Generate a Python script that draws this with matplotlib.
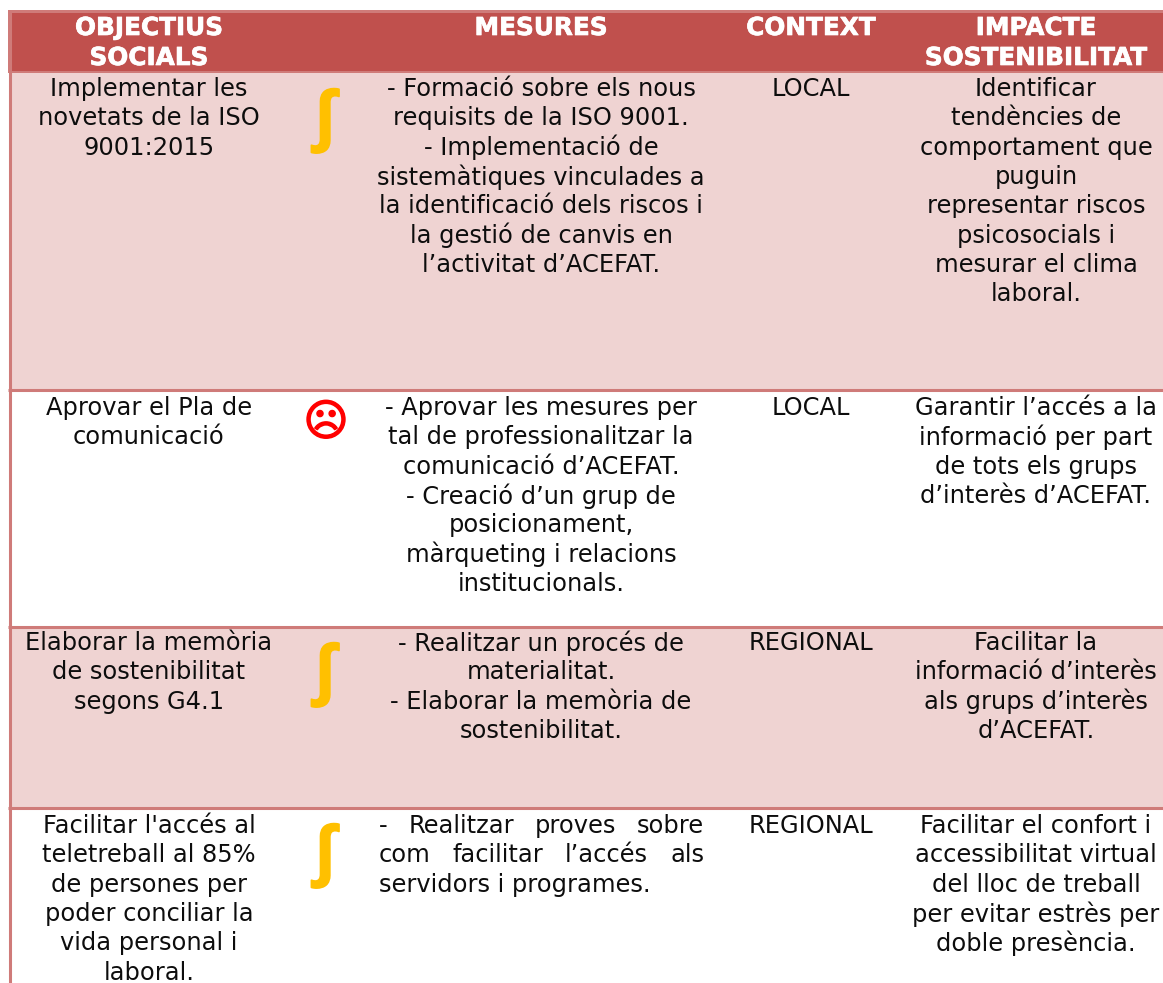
#!/usr/bin/env python
# -*- coding: utf-8 -*-
import matplotlib
matplotlib.use("Agg")
import matplotlib.pyplot as plt
import matplotlib.patheffects as pe

WIDTH, HEIGHT = 1163, 983

HEADERS = [
    ["OBJECTIUS", "SOCIALS"],
    ["MESURES"],
    ["CONTEXT"],
    ["IMPACTE", "SOSTENIBILITAT"],
]
OBJECTIUS = [
    ["Implementar les", "novetats de la ISO", "9001:2015"],
    ["Aprovar el Pla de", "comunicació"],
    ["Elaborar la memòria", "de sostenibilitat", "segons G4.1"],
    ["Facilitar l'accés al", "teletreball al 85%", "de persones per",
     "poder conciliar la", "vida personal i", "laboral."],
]
ESTAT = ["∫", "☹", "∫", "∫"]
MESURES = [
    ["- Formació sobre els nous", "requisits de la ISO 9001.",
     "- Implementació de", "sistemàtiques vinculades a",
     "la identificació dels riscos i", "la gestió de canvis en",
     "l’activitat d’ACEFAT."],
    ["- Aprovar les mesures per", "tal de professionalitzar la",
     "comunicació d’ACEFAT.", "- Creació d’un grup de", "posicionament,",
     "màrqueting i relacions", "institucionals."],
    ["- Realitzar un procés de", "materialitat.",
     "- Elaborar la memòria de", "sostenibilitat."],
    ["- Realitzar proves sobre", "com facilitar l’accés als",
     "servidors i programes."],
]
CONTEXT = ["LOCAL", "LOCAL", "REGIONAL", "REGIONAL"]
IMPACTE = [
    ["Identificar", "tendències de", "comportament que", "puguin",
     "representar riscos", "psicosocials i", "mesurar el clima", "laboral."],
    ["Garantir l’accés a la", "informació per part", "de tots els grups",
     "d’interès d’ACEFAT."],
    ["Facilitar la", "informació d’interès", "als grups d’interès",
     "d’ACEFAT."],
    ["Facilitar el confort i", "accessibilitat virtual", "del lloc de treball",
     "per evitar estrès per", "doble presència."],
]

# layout in pixels
ROW_TOPS = [73, 390, 627, 808]
ROW_BOTTOMS = [390, 627, 808, 983]
ROW_FILLS = ["#EFD3D2", "white", "#EFD3D2", "white"]
FIRST_LINE = [89, 408, 643, 826]
COL_X = [149, 541, 811, 1036]
STATE_X = 326
LINE_STEP = 29.3
JUSTIFY_ROW = 3
JUSTIFY_LEFT, JUSTIFY_RIGHT = 379, 704

BORDER = "#CF7B79"
HEAD = "#C0504D"
FONT = 17.4
HEAD_FONT = 17.8
INK = "#0D0D0D"

fig = plt.figure(figsize=(WIDTH / 100, HEIGHT / 100), dpi=100)
ax = fig.add_axes([0, 0, 1, 1])
ax.set_xlim(0, WIDTH)
ax.set_ylim(HEIGHT, 0)
ax.axis("off")


def cell_lines(x, y, lines):
    for i, line in enumerate(lines):
        ax.text(x, y + i * LINE_STEP, line, ha="center", va="center",
                fontsize=FONT, color=INK)


def justified(y, line, last):
    # word by word, the way the source document spreads this one cell
    if last:
        ax.text(JUSTIFY_LEFT, y, line, ha="left", va="center", fontsize=FONT, color=INK)
        return
    renderer = fig.canvas.get_renderer()
    words = line.split(" ")
    items = [ax.text(0, y, w, ha="left", va="center", fontsize=FONT, color=INK) for w in words]
    widths = [t.get_window_extent(renderer).width for t in items]
    gap = (JUSTIFY_RIGHT - JUSTIFY_LEFT - sum(widths)) / (len(words) - 1)
    x = JUSTIFY_LEFT
    for t, w in zip(items, widths):
        t.set_x(x)
        x += w + gap


# header band and row backgrounds
ax.fill_between([8, WIDTH], 10, 73, color=BORDER, lw=0)
ax.fill_between([11, WIDTH], 13, 71, color=HEAD, lw=0)
for top, bottom, fill in zip(ROW_TOPS, ROW_BOTTOMS, ROW_FILLS):
    ax.fill_between([11, WIDTH], top, bottom, color=fill, lw=0)
    if top > 73:
        ax.plot([8, WIDTH], [top, top], color=BORDER, lw=2.2, solid_capstyle="butt")
ax.plot([9.5, 9.5], [10, HEIGHT], color=BORDER, lw=2.2, solid_capstyle="butt")

for x, lines in zip(COL_X, HEADERS):
    for i, line in enumerate(lines):
        ax.text(x, 28 + i * 30, line, ha="center", va="center", fontsize=HEAD_FONT,
                fontweight="bold", color="white",
                path_effects=[pe.withStroke(linewidth=0.5, foreground="white")])

for r in range(4):
    y = FIRST_LINE[r]
    cell_lines(COL_X[0], y, OBJECTIUS[r])
    cell_lines(COL_X[2], y, [CONTEXT[r]])
    cell_lines(COL_X[3], y, IMPACTE[r])
    if r == JUSTIFY_ROW:
        for i, line in enumerate(MESURES[r]):
            justified(y + i * LINE_STEP, line, i == len(MESURES[r]) - 1)
    else:
        cell_lines(COL_X[1], y, MESURES[r])
    if ESTAT[r] == "∫":
        ax.text(STATE_X - 1, ROW_TOPS[r] + 48, ESTAT[r], ha="center", va="center",
                fontsize=49, fontweight="bold", color="#FFC000",
                family=["Liberation Sans", "DejaVu Sans"],
                path_effects=[pe.withStroke(linewidth=1.2, foreground="#FFC000")])
    else:
        ax.text(STATE_X, ROW_TOPS[r] + 33, ESTAT[r], ha="center", va="center",
                fontsize=31, fontweight="bold", color="#FF0000",
                path_effects=[pe.withStroke(linewidth=1.2, foreground="#FF0000")])

fig.savefig("out.png", dpi=100)
